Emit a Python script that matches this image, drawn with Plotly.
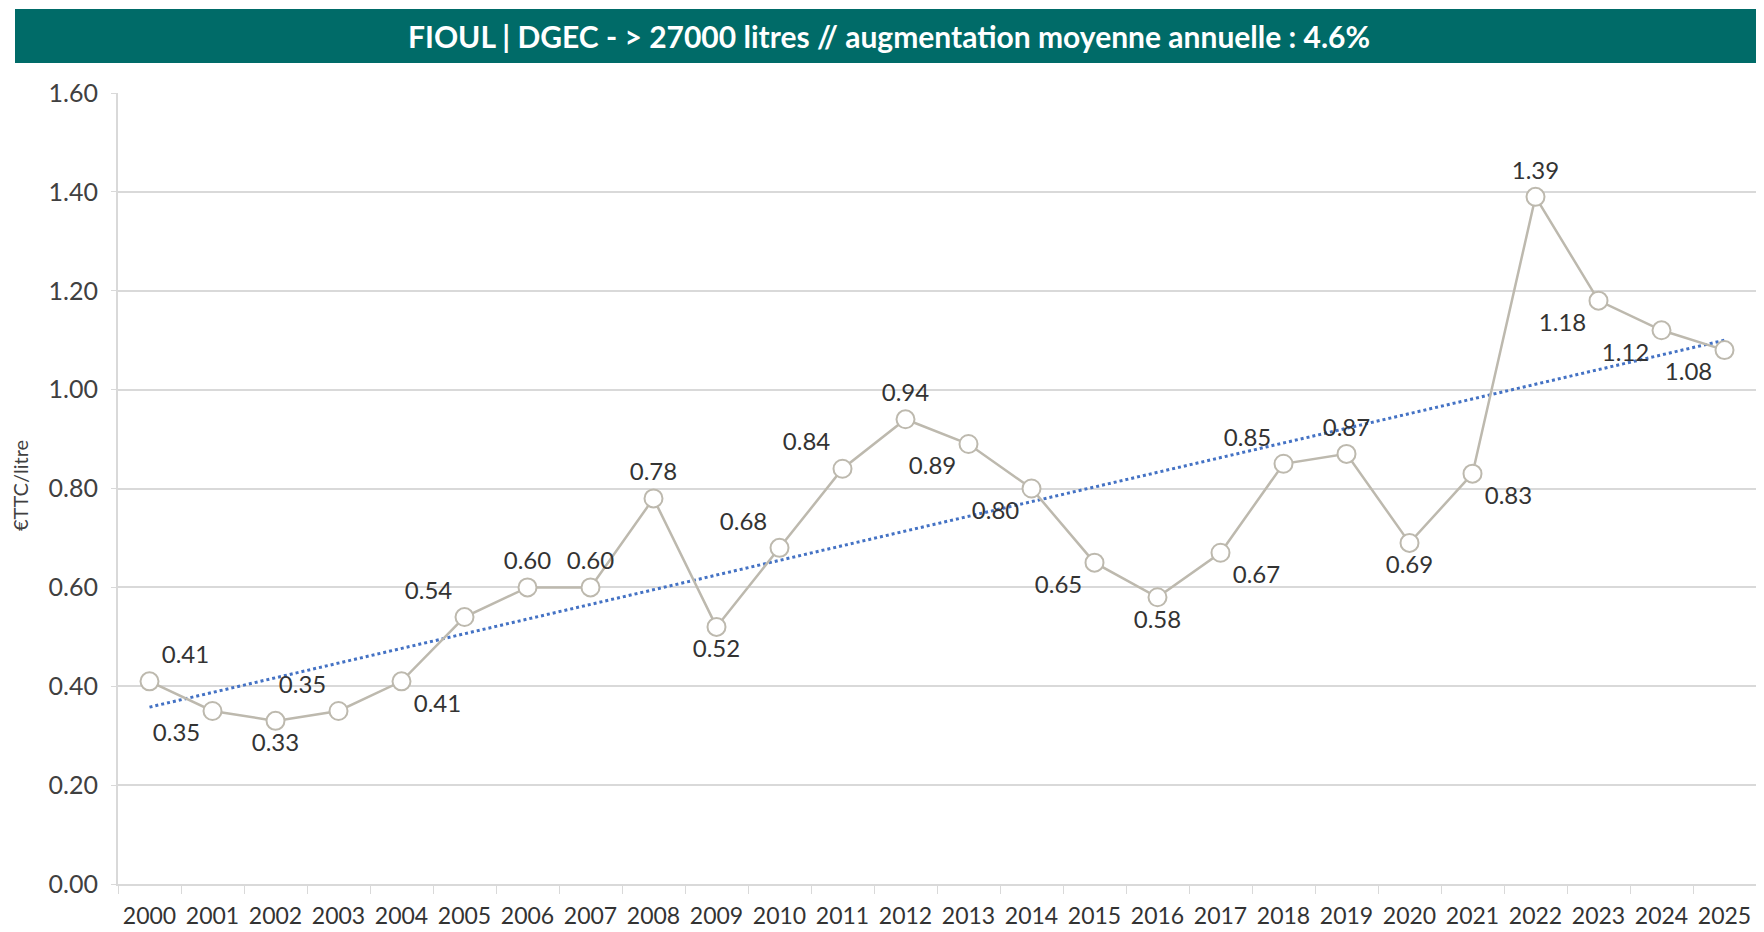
import numpy as np
import plotly.graph_objects as go

annees = [str(a) for a in range(2000, 2026)]
prix = [0.41, 0.35, 0.33, 0.35, 0.41, 0.54, 0.60, 0.60, 0.78, 0.52,
        0.68, 0.84, 0.94, 0.89, 0.80, 0.65, 0.58, 0.67, 0.85, 0.87,
        0.69, 0.83, 1.39, 1.18, 1.12, 1.08]
positions = ["top right", "bottom left", "bottom center", "top left", "bottom right",
             "top left", "top center", "top center", "top center", "bottom center",
             "top left", "top left", "top center", "bottom left", "bottom left",
             "bottom left", "bottom center", "bottom right", "top left", "top center",
             "bottom center", "bottom right", "top center", "bottom left", "bottom left",
             "bottom left"]
y_ticks = [0.0, 0.2, 0.4, 0.6, 0.8, 1.0, 1.2, 1.4, 1.6]

titre = "FIOUL | DGEC - > 27000 litres // augmentation moyenne annuelle : 4.6%"

# tendance linéaire (comme la courbe de tendance Excel)
idx = np.arange(len(prix))
pente, origine = np.polyfit(idx, prix, 1)
tendance = origine + pente * idx

# la page ajoute 8 px de marge autour du graphique
OFF = 8
W, H = 1764 - 2 * OFF, 932 - OFF
ml, mr, mt, mb = 118 - OFF, 0, 93 - OFF, 48
pw, ph = W - ml - mr, H - mt - mb

def px_x(p):
    return (p - OFF - ml) / pw

def px_y(p):
    return (H - mb - (p - OFF)) / ph

fig = go.Figure()

fig.add_trace(go.Scatter(
    x=annees, y=tendance,
    mode="lines",
    line=dict(color="#4472C4", width=3, dash="dot"),
    hoverinfo="skip",
    showlegend=False,
))

fig.add_trace(go.Scatter(
    x=annees, y=prix,
    mode="lines+markers+text",
    line=dict(color="#BDB9AE", width=2.5),
    marker=dict(symbol="circle", size=18, color="white",
                line=dict(color="#BDB9AE", width=2)),
    text=[f"{v:.2f}" for v in prix],
    textposition=positions,
    textfont=dict(family="Lato", size=24, color="#333333"),
    cliponaxis=False,
    showlegend=False,
))

fig.update_layout(
    width=W, height=H,
    margin=dict(l=ml, r=mr, t=mt, b=mb),
    paper_bgcolor="white",
    plot_bgcolor="white",
    font=dict(family="Lato", color="#595959"),
    xaxis=dict(
        type="category",
        range=[-0.5, len(annees) - 0.5],
        showgrid=False,
        showline=True, linecolor="#D9D9D9", linewidth=2,
        ticks="outside", tickson="boundaries", ticklen=8, tickcolor="#D9D9D9",
        tickfont=dict(size=23, color="#333333"),
        ticklabelstandoff=10,
    ),
    yaxis=dict(
        range=[0, 1.6],
        tickvals=y_ticks,
        tickformat=".2f",
        showgrid=True, gridcolor="#D9D9D9", gridwidth=2,
        showline=True, linecolor="#D9D9D9", linewidth=2,
        ticks="outside", ticklen=5, tickcolor="#D9D9D9",
        tickfont=dict(size=25, color="#404040"),
        ticklabelstandoff=8,
        zeroline=False,
    ),
    shapes=[dict(
        type="rect", xref="paper", yref="paper",
        x0=px_x(15), x1=1.0, y0=px_y(63), y1=px_y(9),
        fillcolor="#006B68", line=dict(width=0), layer="above",
    )],
    annotations=[
        dict(text=f"<b>{titre}</b>", xref="paper", yref="paper",
             x=px_x(889), y=px_y(36), xanchor="center", yanchor="middle",
             showarrow=False, font=dict(family="Lato", size=30, color="white")),
        dict(text="€TTC/litre", xref="paper", yref="paper",
             x=px_x(20), y=px_y(486), xanchor="center", yanchor="middle",
             textangle=-90, showarrow=False,
             font=dict(family="Lato", size=20, color="#404040")),
    ],
)

fig.write_html("out.html")
